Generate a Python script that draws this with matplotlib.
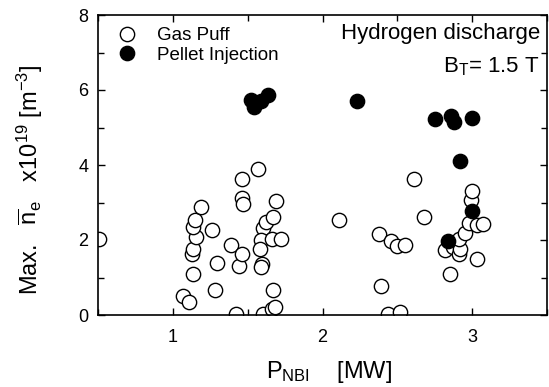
import matplotlib
matplotlib.use('Agg')
import matplotlib.pyplot as plt
from matplotlib.ticker import MultipleLocator

### data
gas_x = [0.51, 1.07, 1.11, 1.135, 1.13, 1.135, 1.155, 1.135, 1.145, 1.19,
         1.26, 1.295, 1.28, 1.39, 1.44, 1.465, 1.42, 1.46, 1.46, 1.47,
         1.57, 1.60, 1.62, 1.59, 1.585, 1.595, 1.59, 1.60, 1.66, 1.68,
         1.67, 1.67, 1.69, 1.66, 1.72, 2.11, 2.38, 2.39, 2.44, 2.46,
         2.50, 2.52, 2.55, 2.61, 2.68, 2.82, 2.85, 2.87, 2.91, 2.92,
         2.91, 2.95, 2.98, 3.03, 3.07, 2.99, 3.00, 3.03]
gas_y = [2.02, 0.51, 0.36, 1.09, 1.62, 1.77, 2.07, 2.34, 2.53, 2.89,
         2.28, 1.39, 0.68, 1.87, 1.32, 1.62, 0.02, 3.62, 3.11, 2.97,
         3.89, 2.31, 2.49, 2.00, 1.77, 1.37, 1.29, 0.03, 0.15, 0.22,
         0.68, 2.62, 3.05, 2.02, 2.04, 2.53, 2.16, 0.77, 0.03, 1.98,
         1.85, 0.08, 1.87, 3.63, 2.62, 1.73, 1.10, 1.81, 1.62, 1.76,
         2.03, 2.19, 2.46, 2.40, 2.44, 3.08, 3.30, 1.50]

pellet_x = [1.52, 1.54, 1.59, 1.635, 2.23, 2.75, 2.86, 2.88, 3.00, 2.92, 3.00, 2.84]
pellet_y = [5.73, 5.55, 5.70, 5.88, 5.71, 5.22, 5.31, 5.15, 5.26, 4.12, 2.78, 1.98]

### style
plt.rcParams['font.family'] = ['Liberation Sans', 'DejaVu Sans']
plt.rcParams['mathtext.fontset'] = 'custom'
plt.rcParams['mathtext.rm'] = 'Liberation Sans'
plt.rcParams['mathtext.it'] = 'Liberation Sans'
plt.rcParams['mathtext.bf'] = 'Liberation Sans:bold'

W, H = 549, 387
fig = plt.figure(figsize=(W/100., H/100.), dpi=100)
ax = fig.add_axes([98./W, 72./H, 449./W, 300./H])

ax.plot(gas_x, gas_y, 'o', ms=10.3, mfc='white', mec='black', mew=1.0,
        ls='none', label='Gas Puff')
ax.plot(pellet_x, pellet_y, 'o', ms=10.3, mfc='black', mec='black', mew=1.0,
        ls='none', label='Pellet Injection')

ax.set_xlim(0.5, 3.5)
ax.set_ylim(0, 8)
ax.xaxis.set_major_locator(MultipleLocator(1))
ax.xaxis.set_minor_locator(MultipleLocator(0.5))
ax.yaxis.set_major_locator(MultipleLocator(2))
ax.yaxis.set_minor_locator(MultipleLocator(1))
ax.tick_params(which='both', direction='in', top=True, right=True,
               labelsize=13, width=1.0)
ax.tick_params(which='major', length=5, pad=7)
ax.tick_params(axis='x', which='major', pad=10)
ax.tick_params(which='minor', length=4)
for s in ax.spines.values():
    s.set_linewidth(1.2)

ax.set_xlabel(r'P$_{\mathrm{NBI}}$    [MW]', fontsize=17)
ax.xaxis.set_label_coords(0.515, -0.148)
ax.set_ylabel(r'Max.   $\overline{\mathrm{n}}_{\mathrm{e}}$   x10$^{19}$ [m$^{-3}$]',
              fontsize=17)
ax.yaxis.set_label_coords(-0.118, 0.45)

ax.legend(loc='upper left', frameon=False, fontsize=13.5, handletextpad=1.0,
          handlelength=1.2, borderaxespad=0.3, labelspacing=0.12,
          borderpad=0.35, bbox_to_anchor=(0.012, 1.0))

ax.text(0.984, 0.975, 'Hydrogen discharge', transform=ax.transAxes,
        ha='right', va='top', fontsize=16)
ax.text(0.984, 0.865, r'B$_{\mathrm{T}}$= 1.5 T', transform=ax.transAxes,
        ha='right', va='top', fontsize=16)

fig.savefig('out.png', dpi=100)
